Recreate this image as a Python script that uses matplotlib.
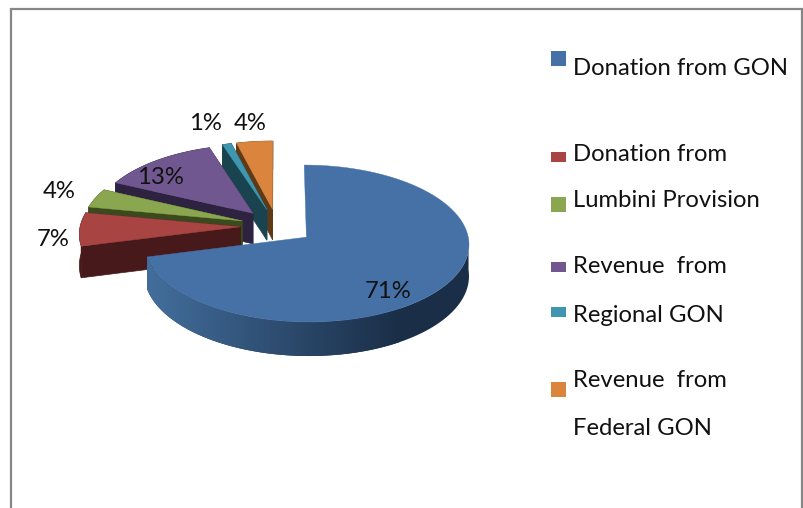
import numpy as np
import matplotlib
matplotlib.use('Agg')
import matplotlib.pyplot as plt
from matplotlib.patches import Rectangle, Polygon
from matplotlib.colors import to_rgb

plt.rcParams['font.family'] = ['Lato', 'DejaVu Sans']

values = [71, 7, 4, 13, 1, 4]
top_colors = ['#4571A6', '#A84442', '#8AA64E', '#71578F', '#4096B0', '#DB843D']
wall_colors = ['#1A2E47', '#47191A', '#3B4A1E', '#2D2340', '#1A4350', '#5E3A16']
label_pos = [(388, 291), (53, 239), (59, 192), (160, 177), (205, 123), (250, 123)]
legend_text = [('Donation from GON', 75), ('Donation from', 161), ('Lumbini Provision', 207),
               ('Revenue  from', 273), ('Regional GON', 322), ('Revenue  from', 387),
               ('Federal GON', 435)]
legend_boxes = [(51, 15), (152, 10), (197, 15), (262, 10), (307, 10), (382, 15)]

W, H = 804, 508
# pixel size of one pie radius, and where the exploded pie is centred
rx, ry = 160, 76.2
cx, cy = 277, 226.3
depth = 0.406
persp = 0.08
font = 17.2

fig = plt.figure(figsize=(W / 100, H / 100), dpi=100)
ax = fig.add_axes([0, 0, 1, 1])
wedges, _ = ax.pie(values, colors=top_colors, startangle=90, counterclock=False,
                   explode=[0.23] * len(values), wedgeprops={'linewidth': 0})
ax.set_aspect('auto')


def warp(x, y):
    # far side of the pie smaller, near side bigger
    s = 1 / (1 + persp * y)
    return x * s, y * s, s


def draw_slice(w, top, wall, z, gradient=False):
    x0, y0 = w.center
    t = np.radians(np.linspace(w.theta1, w.theta2, 200))
    xs, ys, ss = warp(x0 + w.r * np.cos(t), y0 + w.r * np.sin(t))
    tx, ty, ts = warp(x0, y0)
    low = ys - depth * ss
    tlow = ty - depth * ts
    if gradient:
        # only the near side of the rim shows, lighter towards the left
        near = np.sin(t) <= 0
        rim = np.vstack([np.column_stack([xs[near], ys[near]]),
                         np.column_stack([xs[near], low[near]])[::-1]])
        f = np.linspace(0, 1, 256)[:, None]
        g = (1 - f) * np.array(to_rgb('#44709F')) + f * np.array(to_rgb(wall))
        ax.add_patch(Polygon(rim, fc=wall, ec='none', zorder=z - 0.5))
        x1, x2 = (140 - cx) / rx, (400 - cx) / rx
        im = ax.imshow(g[None, :, :], extent=(x1, x2, -5, 5), aspect='auto',
                       interpolation='bilinear', zorder=z)
        im.set_clip_path(Polygon(rim, transform=ax.transData))
    else:
        rim = np.vstack([np.column_stack([xs, ys]), np.column_stack([xs, low])[::-1]])
        for i in [0, -1]:
            ax.add_patch(Polygon([(tx, ty), (xs[i], ys[i]), (xs[i], low[i]), (tx, tlow)],
                                 fc=wall, ec=wall, lw=0.5, zorder=z))
        ax.add_patch(Polygon(rim, fc=wall, ec=wall, lw=0.5, zorder=z))
    face = [(tx, ty)] + list(zip(xs, ys))
    ax.add_patch(Polygon(face, fc=top, ec=top, lw=0.3, zorder=z + 1))
    w.set_visible(False)


# back slices first, the big one last
order = [5, 4, 3, 2, 1, 0]
for n, k in enumerate(order):
    draw_slice(wedges[k], top_colors[k], wall_colors[k], 2 + n * 2, gradient=(k == 0))
ax.set_xlim(-cx / rx, (W - cx) / rx)
ax.set_ylim(-(H - cy) / ry, cy / ry)

over = fig.add_axes([0, 0, 1, 1])
over.set_xlim(0, W)
over.set_ylim(H, 0)
over.axis('off')
over.patch.set_alpha(0)

# chart frame
over.plot([11, 11, 802, 802], [H, 9, 9, H], color='#868686', lw=1.6, solid_joinstyle='miter')

for v, (x, y) in zip(values, label_pos):
    over.text(x, y, f'{v}%', fontsize=font, ha='center', va='center', color='#111111', zorder=30)

for (y, h), c in zip(legend_boxes, top_colors):
    over.add_patch(Rectangle((551, y), 15, h, fc=c, ec='none'))
for txt, y in legend_text:
    over.text(573, y, txt, fontsize=font, ha='left', va='baseline', color='#111111')

fig.savefig('out.png', dpi=100)
